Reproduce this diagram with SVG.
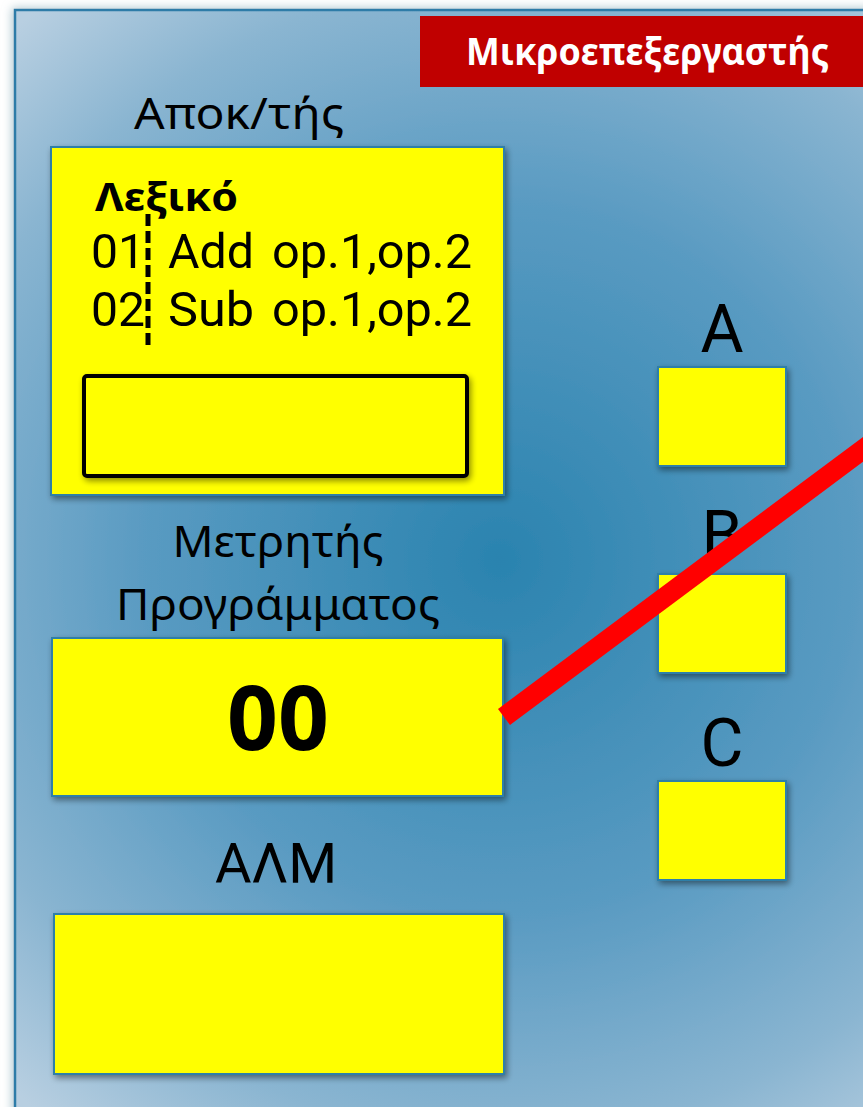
<svg xmlns="http://www.w3.org/2000/svg" width="863" height="1107" viewBox="0 0 863 1107">
  <defs>
    <radialGradient id="bg" gradientUnits="userSpaceOnUse" cx="500" cy="560" r="720">
      <stop offset="0" stop-color="#2a83af"/>
      <stop offset="0.5" stop-color="#5a9bc2"/>
      <stop offset="0.8" stop-color="#8ab5d1"/>
      <stop offset="1" stop-color="#b8cfe1"/>
    </radialGradient>
    <filter id="shadow" x="-10%" y="-10%" width="130%" height="130%">
      <feGaussianBlur in="SourceAlpha" stdDeviation="3"/>
      <feOffset dx="2" dy="3" result="b"/>
      <feComponentTransfer><feFuncA type="linear" slope="0.45"/></feComponentTransfer>
      <feMerge><feMergeNode/><feMergeNode in="SourceGraphic"/></feMerge>
    </filter>
    <filter id="frameShadow" x="-5%" y="-5%" width="110%" height="110%">
      <feGaussianBlur in="SourceAlpha" stdDeviation="5"/>
      <feOffset dx="-2" dy="-1" result="b"/>
      <feFlood flood-color="#8fb0bc" flood-opacity="0.7"/>
      <feComposite in2="b" operator="in"/>
      <feMerge><feMergeNode/><feMergeNode in="SourceGraphic"/></feMerge>
    </filter>
    <style>
      .box { fill: #ffff00; stroke: #2f7fa8; stroke-width: 2; filter: url(#shadow); }
      .cal { font-family: "Noto Sans", "Open Sans", sans-serif; fill: #000; }
      .rob { font-family: Roboto, "Noto Sans", sans-serif; fill: #000; }
    </style>
  </defs>

  <rect x="0" y="0" width="863" height="1107" fill="#ffffff"/>

  <!-- processor frame -->
  <g id="frame">
    <rect x="15" y="10" width="880" height="1120" fill="url(#bg)" stroke="#2e7ca8" stroke-width="2.5" filter="url(#frameShadow)"/>
  </g>

  <!-- title banner -->
  <g id="title">
    <rect x="420" y="16" width="450" height="71" fill="#c00000"/>
    <text x="466" y="65" class="cal" font-size="37" font-weight="bold" style="fill:#fff" textLength="363" lengthAdjust="spacingAndGlyphs">Μικροεπεξεργαστής</text>
  </g>

  <!-- decoder -->
  <g id="decoder">
    <text x="134" y="129" class="cal" font-size="44" textLength="210" lengthAdjust="spacingAndGlyphs">Αποκ/τής</text>
    <rect class="box" x="51" y="147" width="453" height="348"/>
    <text x="95" y="211" class="cal" font-size="39" font-weight="bold" textLength="143" lengthAdjust="spacingAndGlyphs">Λεξικό</text>
    <text y="268" class="rob" font-size="48"><tspan x="91" textLength="54" lengthAdjust="spacingAndGlyphs">01</tspan><tspan x="168" textLength="86" lengthAdjust="spacingAndGlyphs">Add</tspan><tspan x="272" textLength="200" lengthAdjust="spacingAndGlyphs">op.1,op.2</tspan></text>
    <text y="326" class="rob" font-size="48"><tspan x="91" textLength="54" lengthAdjust="spacingAndGlyphs">02</tspan><tspan x="168" textLength="86" lengthAdjust="spacingAndGlyphs">Sub</tspan><tspan x="272" textLength="200" lengthAdjust="spacingAndGlyphs">op.1,op.2</tspan></text>
    <line x1="148" y1="214" x2="148" y2="350" stroke="#000" stroke-width="5" stroke-dasharray="12 5"/>
    <rect x="84" y="376" width="383" height="100" rx="3" fill="#ffff00" stroke="#000" stroke-width="4" filter="url(#shadow)"/>
  </g>

  <!-- program counter -->
  <g id="pc">
    <text x="278" y="557" class="cal" font-size="44" text-anchor="middle" textLength="211" lengthAdjust="spacingAndGlyphs">Μετρητής</text>
    <text x="278" y="620" class="cal" font-size="44" text-anchor="middle" textLength="324" lengthAdjust="spacingAndGlyphs">Προγράμματος</text>
    <rect class="box" x="52" y="638" width="451" height="158"/>
    <text x="278" y="750" class="cal" font-size="90" font-weight="bold" text-anchor="middle" textLength="102" lengthAdjust="spacingAndGlyphs">00</text>
  </g>

  <!-- ALU -->
  <g id="alu">
    <text x="276" y="883" class="rob" font-size="56" text-anchor="middle">ΑΛΜ</text>
    <rect class="box" x="54" y="914" width="450" height="160"/>
  </g>

  <!-- registers -->
  <g id="regA">
    <text x="722" y="352" class="rob" font-size="66" text-anchor="middle">A</text>
    <rect class="box" x="658" y="367" width="128" height="99"/>
  </g>
  <g id="regB">
    <text x="722" y="558" class="rob" font-size="66" text-anchor="middle">B</text>
    <rect class="box" x="658" y="574" width="128" height="99"/>
  </g>
  <g id="regC">
    <text x="722" y="766" class="rob" font-size="66" text-anchor="middle">C</text>
    <rect class="box" x="658" y="781" width="128" height="99"/>
  </g>

  <!-- connectors -->
  <g id="connectors">
    <line x1="504" y1="717" x2="885" y2="433" stroke="#ff0000" stroke-width="20"/>
  </g>
</svg>
